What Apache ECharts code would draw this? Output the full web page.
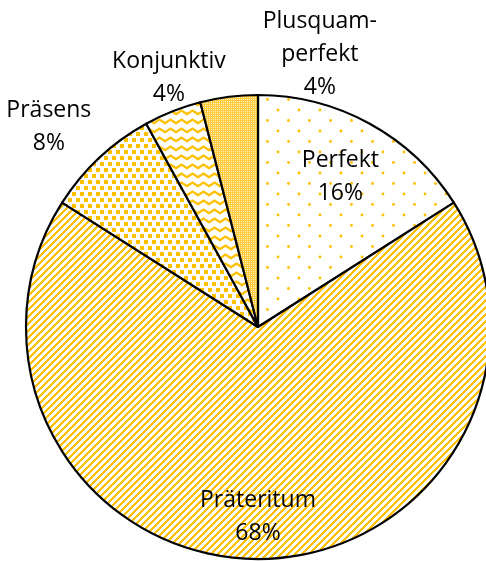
<!DOCTYPE html>
<html>
<head>
<meta charset="utf-8">
<script src="https://cdn.jsdelivr.net/npm/echarts@6/dist/echarts.min.js"></script>
<style>
  html,body{margin:0;padding:0;background:#fff;}
  #main{width:486px;height:561px;}
</style>
</head>
<body>
<div id="main"></div>
<script>
// Anteile der Zeitformen (%)
var names = ['Perfekt', 'Präteritum', 'Präsens', 'Konjunktiv', 'Plusquam-\nperfekt'];
var values = [16, 68, 8, 4, 4];

var GOLD = '#FFC000';
var CX = 258, CY = 327, R = 232;

// label spots: [angle clockwise from top in deg, radius factor]
var labelSpots = [[28.8, 0.737], [180, 0.82], [313.7, 1.247], [340.3, 1.139], [12.8, 1.203]];

function makePattern(w, h, draw){
	var c = document.createElement('canvas');
	c.width = w; c.height = h;
	var g = c.getContext('2d');
	g.fillStyle = '#fff';
	g.fillRect(0, 0, w, h);
	g.fillStyle = GOLD;
	g.strokeStyle = GOLD;
	draw(g, w, h);
	return {image: c, repeat: 'repeat'};
}

var patterns = [
	// sparse dots
	makePattern(21, 21, function(g){
		g.beginPath(); g.arc(5, 5, 1.4, 0, Math.PI * 2); g.fill();
		g.beginPath(); g.arc(15.5, 15.5, 1.4, 0, Math.PI * 2); g.fill();
	}),
	// diagonal stripes
	makePattern(7, 7, function(g, w, h){
		for(var x = 0; x < w; x++){
			for(var y = 0; y < h; y++){
				if((x + y) % 7 < 3){ g.fillRect(x, y, 1, 1); }
			}
		}
	}),
	// dense squares
	makePattern(8, 12, function(g){
		g.fillRect(0, 0, 4, 4);
		g.fillRect(4, 6, 4, 4);
	}),
	// waves
	makePattern(11, 9, function(g){
		g.lineWidth = 2.2;
		g.beginPath();
		g.moveTo(-0.5, 6.5); g.lineTo(5.5, 2.5); g.lineTo(11.5, 6.5);
		g.stroke();
	}),
	// fine grid: yellow with small white dots
	makePattern(2, 2, function(g){
		g.fillStyle = '#FFCB3A';
		g.fillRect(0, 0, 2, 1);
		g.fillRect(0, 1, 1, 1);
		g.fillStyle = '#FFF3D0';
		g.fillRect(1, 1, 1, 1);
	})
];

var mychart = echarts.init(document.getElementById('main'));

var seriesData = [];
for(var i = 0; i < names.length; i++){
	seriesData.push({
		name: names[i],
		value: values[i],
		itemStyle: {color: patterns[i]}
	});
}

mychart.setOption({
	animation: false,
	series: [
		{
			type: 'pie',
			center: [CX, CY],
			radius: R,
			startAngle: 90,
			clockwise: true,
			data: seriesData,
			itemStyle: {
				borderColor: '#000',
				borderWidth: 2.2
			},
			label: {
				show: true,
				position: 'inside',
				formatter: '{b}\n{d}%',
				color: '#000',
				fontFamily: 'Open Sans',
				fontSize: 23,
				lineHeight: 33,
				align: 'center',
				verticalAlign: 'middle'
			},
			labelLine: {show: false},
			labelLayout: function(params){
				var s = labelSpots[params.dataIndex];
				var a = s[0] * Math.PI / 180;
				return {
					x: CX + Math.sin(a) * R * s[1],
					y: CY - Math.cos(a) * R * s[1],
					align: 'center',
					verticalAlign: 'middle'
				};
			}
		}
	]
});
</script>
</body>
</html>
